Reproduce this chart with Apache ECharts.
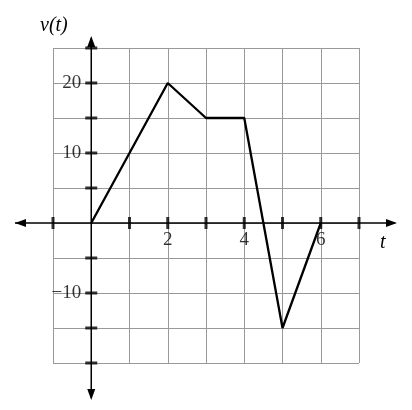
<!DOCTYPE html>
<html>
<head>
<meta charset="UTF-8">
<script src="https://cdn.jsdelivr.net/npm/echarts@6/dist/echarts.min.js"></script>
<style>
  *{margin:0;padding:0;}
  html,body{width:412px;height:410px;background:#fff;}
  .container{width:412px;height:410px;}
</style>
</head>
<body>
<div class="container"></div>
<script>
  // v(t) points
  let tValues = [0, 1, 2, 3, 4, 5, 6];
  let vValues = [0, 10, 20, 15, 15, -15, 0];
  let xTickLabels = [2, 4, 6];
  let yTickLabels = [20, 10, -10];
  let xTicks = [-1, 1, 2, 3, 4, 5, 6, 7];
  let yTicks = [-20, -15, -10, -5, 5, 10, 15, 20, 25];

  let font = '"Liberation Serif", "DejaVu Serif", serif';
  let chart = echarts.init(document.querySelector('.container'));

  let option = {
    animation: false,
    grid: {left: 53, right: 53, top: 48, bottom: 47},
    xAxis: {
      type: 'value', min: -1, max: 7, interval: 1,
      axisLine: {show: false},
      axisTick: {show: false},
      splitLine: {lineStyle: {color: '#999', width: 1}},
      axisLabel: {show: false}
    },
    yAxis: {
      type: 'value', min: -20, max: 25, interval: 5,
      axisLine: {show: false},
      axisTick: {show: false},
      splitLine: {lineStyle: {color: '#999', width: 1}},
      axisLabel: {show: false}
    },
    series: [
      {
        type: 'scatter', symbol: 'rect', symbolSize: [3, 12],
        itemStyle: {color: '#000'}, z: 5,
        data: xTicks.map(t => [t, 0]),
        label: {
          show: true, position: 'bottom', distance: 2,
          fontFamily: font, fontSize: 19, color: '#000',
          formatter: p => xTickLabels.includes(p.value[0]) ? String(p.value[0]) : ''
        }
      },
      {
        type: 'scatter', symbol: 'rect', symbolSize: [12, 3],
        itemStyle: {color: '#000'}, z: 5,
        data: yTicks.map(v => [0, v]),
        label: {
          show: true, position: 'left', distance: 4,
          fontFamily: font, fontSize: 19, color: '#000',
          formatter: p => yTickLabels.includes(p.value[1]) ? String(p.value[1]).replace('-', '\u2212') : ''
        }
      },
      {
        type: 'line', symbol: 'none', z: 6,
        lineStyle: {color: '#000', width: 2.3},
        data: tValues.map((t, i) => [t, vValues[i]])
      }
    ]
  };
  chart.setOption(option);

  // axes with arrows extending past the grid
  let o = chart.convertToPixel({gridIndex: 0}, [0, 0]);
  let arrowLine = (x1, y1, x2, y2) => ({
    type: 'polyline', shape: {points: [[x1, y1], [x2, y2]]},
    style: {stroke: '#000', lineWidth: 1.5}, z: 4
  });
  chart.setOption({
    graphic: [
      arrowLine(15, o[1], 395, o[1]),
      arrowLine(o[0], 38, o[0], 398),
      {type: 'polygon', shape: {points: [[15, o[1]], [26, o[1] - 4], [26, o[1] + 4]]}, style: {fill: '#000'}, z: 4},
      {type: 'polygon', shape: {points: [[397, o[1]], [386, o[1] - 4], [386, o[1] + 4]]}, style: {fill: '#000'}, z: 4},
      {type: 'polygon', shape: {points: [[o[0], 36], [o[0] - 4, 47], [o[0] + 4, 47]]}, style: {fill: '#000'}, z: 4},
      {type: 'polygon', shape: {points: [[o[0], 400], [o[0] - 4, 389], [o[0] + 4, 389]]}, style: {fill: '#000'}, z: 4},
      {type: 'text', left: 40, top: 16, style: {text: 'v(t)', font: 'italic 20px ' + font, fill: '#000'}},
      {type: 'text', left: 380, top: o[1] + 10, style: {text: 't', font: 'italic 20px ' + font, fill: '#000'}}
    ]
  });
</script>
</body>
</html>
